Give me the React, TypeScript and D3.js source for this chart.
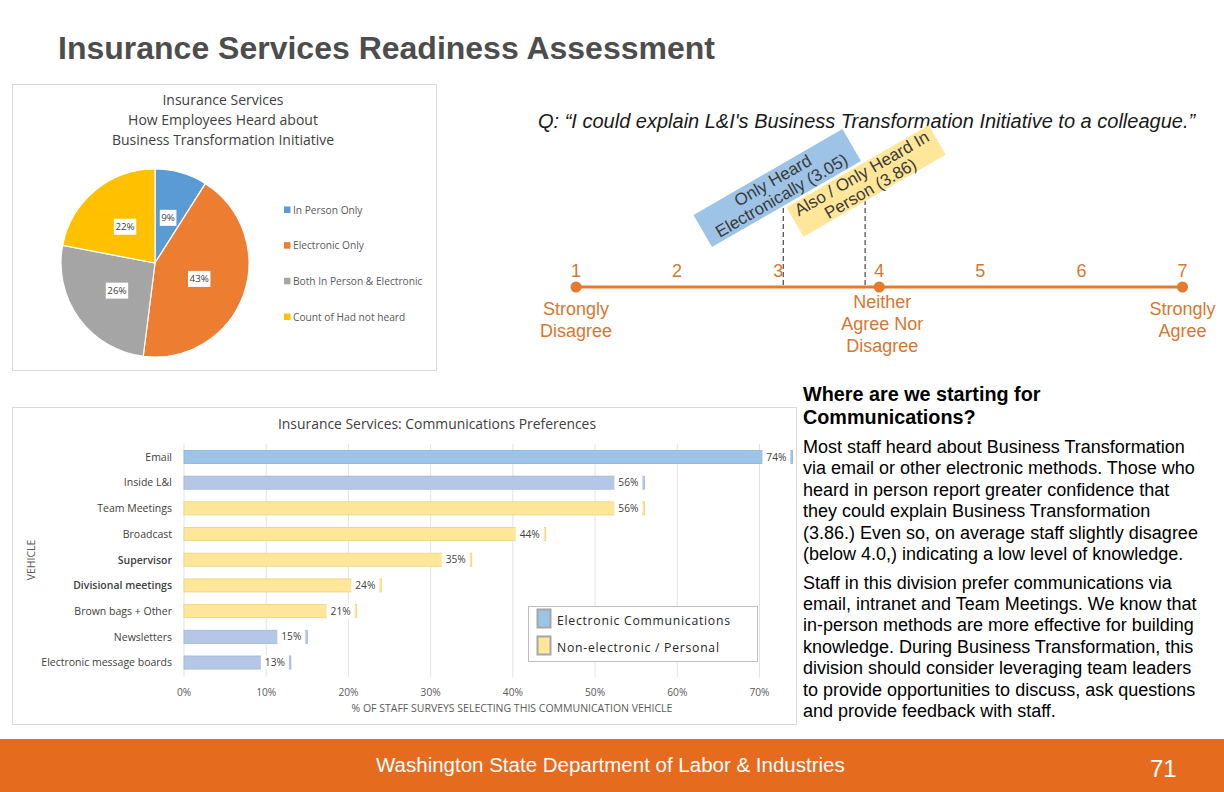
import React from "react";
import * as d3 from "d3";

// ---------- data ----------
const pieCategories = ["In Person Only", "Electronic Only", "Both In Person & Electronic", "Count of Had not heard"];
const pieValues = [9, 43, 26, 22];
const pieColors = ["#5B9BD5", "#ED7D31", "#A5A5A5", "#FFC000"];
const pieTitle = ["Insurance Services", "How Employees Heard about", "Business Transformation Initiative"];

const vehicles = [
  "Email",
  "Inside L&I",
  "Team Meetings",
  "Broadcast",
  "Supervisor",
  "Divisional meetings",
  "Brown bags + Other",
  "Newsletters",
  "Electronic message boards",
];
const vehicleShares = [0.74, 0.56, 0.56, 0.44, 0.35, 0.24, 0.21, 0.15, 0.13];
const vehicleKinds = ["email", "electronic", "personal", "personal", "personal", "personal", "personal", "electronic", "electronic"];
const axisTicks = [0, 0.1, 0.2, 0.3, 0.4, 0.5, 0.6, 0.7];
const legendItems = ["Electronic Communications", "Non-electronic / Personal"];

const scalePoints = [1, 2, 3, 4, 5, 6, 7];
const scaleAnchors = [1, 4, 7];
const scaleAnchorLabels = [["Strongly", "Disagree"], ["Neither", "Agree Nor", "Disagree"], ["Strongly", "Agree"]];
const groupScores = [3.05, 3.86];
const groupLabels = [["Only Heard", "Electronically (3.05)"], ["Also / Only Heard In", "Person (3.86)"]];

const heading = ["Where are we starting for", "Communications?"];
const para1 = [
  "Most staff heard about Business Transformation",
  "via email or other electronic methods. Those who",
  "heard in person report greater confidence that",
  "they could explain Business Transformation",
  "(3.86.) Even so, on average staff slightly disagree",
  "(below 4.0,) indicating a low level of knowledge.",
];
const para2 = [
  "Staff in this division prefer communications via",
  "email, intranet and Team Meetings. We know that",
  "in-person methods are more effective for building",
  "knowledge. During Business Transformation, this",
  "division should consider leveraging team leaders",
  "to provide opportunities to discuss, ask questions",
  "and provide feedback with staff.",
];

// ---------- styles ----------
const ARIAL = "'Liberation Sans', Arial, sans-serif";
const CAL = "'Open Sans', 'Noto Sans', sans-serif";
const ORANGE = "#E56B1F";
const SCALE_ORANGE = "#E57A2C";
const SCALE_TEXT = "#D7772F";
const kindFill: Record<string, string> = { email: "#9DC3E6", electronic: "#B4C7E7", personal: "#FFE699" };
const kindStroke: Record<string, string> = { email: "#8AB3D9", electronic: "#A0B5DA", personal: "#EBD27F" };

function PieChart() {
  const cx = 155, cy = 263, r = 94;
  const arcs = d3.pie<number>().sort(null).value((d) => d)(pieValues);
  const arc = d3.arc<d3.PieArcDatum<number>>().innerRadius(0).outerRadius(r);
  const legendY = d3.scalePoint<string>().domain(pieCategories).range([210, 317]);
  return (
    <g>
      <rect x={12.5} y={84.5} width={424} height={286} fill="#fff" stroke="#D9D9D9" />
      {pieTitle.map((t, i) => (
        <text key={t} x={223} y={105 + i * 20} textAnchor="middle" fontFamily={CAL} fontSize={14} fill="#404040">
          {t}
        </text>
      ))}
      <g transform={`translate(${cx},${cy})`}>
        {arcs.map((a, i) => (
          <path key={i} d={arc(a) || ""} fill={pieColors[i]} stroke="#fff" strokeWidth={1.2} />
        ))}
        {arcs.map((a, i) => {
          const [lx, ly] = arc.centroid(a);
          const label = `${pieValues[i]}%`;
          const w = label.length * 5.8 + 5;
          return (
            <g key={"l" + i}>
              <rect x={lx - w / 2} y={ly - 8} width={w} height={16} fill="#fff" />
              <text x={lx} y={ly + 3.5} textAnchor="middle" fontFamily={CAL} fontSize={9.8} fill="#404040">
                {label}
              </text>
            </g>
          );
        })}
      </g>
      {pieCategories.map((c, i) => (
        <g key={c}>
          <rect x={284} y={(legendY(c) as number) - 3.5} width={6.5} height={6.5} fill={pieColors[i]} />
          <text x={293} y={(legendY(c) as number) + 3.5} fontFamily={CAL} fontSize={10.2} fill="#595959">
            {c}
          </text>
        </g>
      ))}
    </g>
  );
}

function BarChart() {
  const x = d3.scaleLinear().domain([0, 0.7]).range([184, 759.5]);
  const y = d3.scaleBand<string>().domain(vehicles).range([444, 675.5]).paddingInner(0.49).paddingOuter(0.25);
  const bh = y.bandwidth();
  const pct = d3.format(".0%");
  return (
    <g>
      <rect x={12.5} y={407.5} width={784} height={317} fill="#fff" stroke="#D9D9D9" />
      <text x={437} y={429} textAnchor="middle" fontFamily={CAL} fontSize={13.9} fill="#404040">
        Insurance Services: Communications Preferences
      </text>
      {axisTicks.map((t) => (
        <g key={t}>
          <line x1={x(t)} x2={x(t)} y1={444} y2={677} stroke="#E3E3E3" strokeWidth={1} />
          <text x={x(t)} y={695.5} textAnchor="middle" fontFamily={CAL} fontSize={10.2} fill="#595959">
            {pct(t)}
          </text>
        </g>
      ))}
      {vehicles.map((v, i) => {
        const y0 = y(v) as number;
        const end = x(vehicleShares[i]);
        const kind = vehicleKinds[i];
        return (
          <g key={v}>
            <rect x={x(0)} y={y0} width={end - x(0)} height={bh} fill={kindFill[kind]} stroke={kindStroke[kind]} strokeWidth={0.8} />
            <rect x={end - 30} y={y0 - 1} width={28} height={bh + 2} fill="#fff" />
            <text x={end - 16} y={y0 + bh / 2 + 3.6} textAnchor="middle" fontFamily={CAL} fontSize={10.2} fill="#404040">
              {pct(vehicleShares[i])}
            </text>
            <text
              x={172}
              y={y0 + bh / 2 + 3.8}
              textAnchor="end"
              fontFamily={CAL}
              fontSize={10.5}
              fontWeight={v === "Supervisor" || v === "Divisional meetings" ? 600 : 400}
              fill="#404040"
            >
              {v}
            </text>
          </g>
        );
      })}
      <text x={512} y={712} textAnchor="middle" fontFamily={CAL} fontSize={10.5} fill="#595959">
        % OF STAFF SURVEYS SELECTING THIS COMMUNICATION VEHICLE
      </text>
      <text transform="translate(35,560) rotate(-90)" textAnchor="middle" fontFamily={CAL} fontSize={10.5} fill="#595959">
        VEHICLE
      </text>
      <rect x={528.5} y={606.5} width={229} height={55} fill="#fff" stroke="#BFBFBF" />
      {legendItems.map((l, i) => (
        <g key={l}>
          <rect x={537.5} y={609.5 + i * 27} width={13} height={18} fill={i === 0 ? kindFill.email : kindFill.personal} stroke="#A6A6A6" strokeWidth={2} />
          <text x={557} y={624.5 + i * 27.5} fontFamily={CAL} fontSize={12.2} letterSpacing={0.75} fill="#262626">
            {l}
          </text>
        </g>
      ))}
    </g>
  );
}

function ScaleGraphic() {
  const x = d3.scaleLinear().domain([1, 7]).range([576, 1182.5]);
  const lineY = 287;
  const boxOffsets = [
    { dx: -6, cy: 188, w: 172, h: 37 },
    { dx: 1, cy: 181, w: 164, h: 34 },
  ];
  const boxFills = ["#9DC3E6", "#FFE699"];
  return (
    <g>
      <text x={538} y={128} fontFamily={ARIAL} fontStyle="italic" fontSize={20} fill="#1a1a1a">
        Q: “I could explain L&amp;I's Business Transformation Initiative to a colleague.”
      </text>
      {groupScores.map((s, i) => (
        <line key={"d" + i} x1={x(s)} x2={x(s)} y1={200} y2={lineY} stroke="#222" strokeWidth={1} strokeDasharray="5,3" />
      ))}
      {groupScores.map((s, i) => {
        const b = boxOffsets[i];
        const cx = x(s) + b.dx;
        return (
          <g key={"b" + i} transform={`translate(${cx},${b.cy}) rotate(-30)`}>
            <rect x={-b.w / 2} y={-b.h / 2} width={b.w} height={b.h} fill={boxFills[i]} />
            {groupLabels[i].map((t, j) => (
              <text key={t} x={0} y={-3 + j * 17.5} textAnchor="middle" fontFamily={ARIAL} fontSize={17} fill="#3a3a3a">
                {t}
              </text>
            ))}
          </g>
        );
      })}
      <line x1={x(1)} x2={x(7)} y1={lineY} y2={lineY} stroke={SCALE_ORANGE} strokeWidth={3} />
      {scaleAnchors.map((a) => (
        <circle key={a} cx={x(a)} cy={lineY} r={5.5} fill={SCALE_ORANGE} />
      ))}
      {scalePoints.map((p) => (
        <text key={p} x={x(p)} y={277} textAnchor="middle" fontFamily={ARIAL} fontSize={18} fill={SCALE_TEXT}>
          {p}
        </text>
      ))}
      {scaleAnchors.map((a, i) =>
        scaleAnchorLabels[i].map((t, j) => (
          <text
            key={a + t + j}
            x={x(a) + (i === 1 ? 3 : 0)}
            y={(i === 1 ? 307.5 : 314.5) + j * 22}
            textAnchor="middle"
            fontFamily={ARIAL}
            fontSize={18}
            fill={SCALE_TEXT}
          >
            {t}
          </text>
        ))
      )}
    </g>
  );
}

function TextPanel() {
  return (
    <g fontFamily={ARIAL} fill="#000">
      {heading.map((t, i) => (
        <text key={t} x={803} y={400.5 + i * 23} fontSize={19.8} fontWeight="bold">
          {t}
        </text>
      ))}
      {para1.map((t, i) => (
        <text key={t} x={803} y={453 + i * 21.45} fontSize={18}>
          {t}
        </text>
      ))}
      {para2.map((t, i) => (
        <text key={t} x={803} y={588.5 + i * 21.4} fontSize={18}>
          {t}
        </text>
      ))}
    </g>
  );
}

export default function App() {
  return (
    <div style={{ position: "absolute", left: 0, top: 0 }}>
      <svg width={1224} height={792} viewBox="0 0 1224 792" style={{ display: "block", background: "#fff" }}>
        <rect width={1224} height={792} fill="#fff" />
        <text x={58} y={59} fontFamily={ARIAL} fontWeight="bold" fontSize={32} fill="#4D4D4D">
          Insurance Services Readiness Assessment
        </text>
        <PieChart />
        <BarChart />
        <ScaleGraphic />
        <TextPanel />
        <rect x={0} y={739} width={1224} height={53} fill={ORANGE} />
        <text x={376} y={772} fontFamily={ARIAL} fontSize={20.5} fill="#fff">
          Washington State Department of Labor &amp; Industries
        </text>
        <text x={1150} y={777} fontFamily={ARIAL} fontSize={24} fill="#fff">
          71
        </text>
      </svg>
    </div>
  );
}
